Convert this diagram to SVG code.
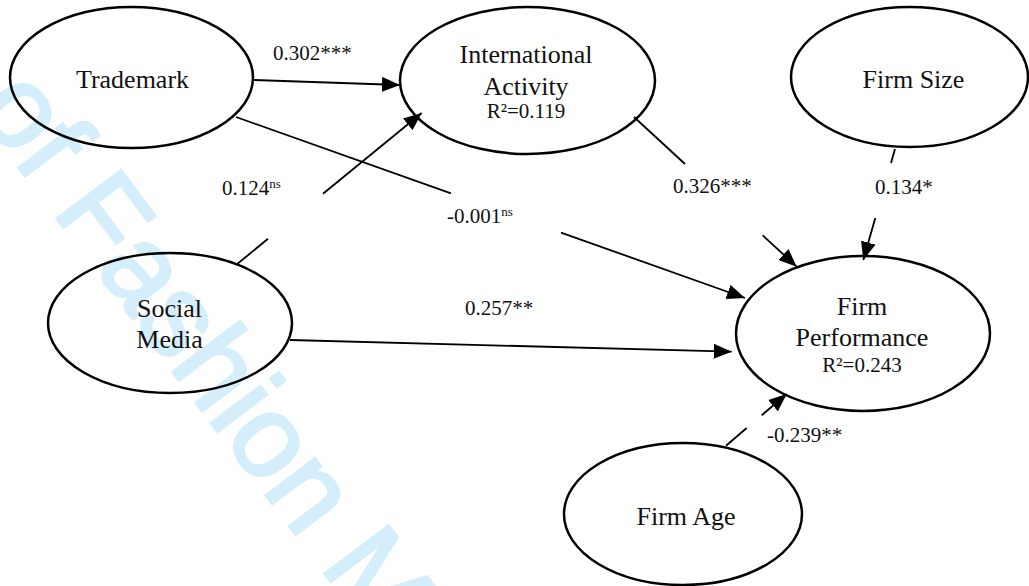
<svg xmlns="http://www.w3.org/2000/svg" width="1029" height="586" viewBox="0 0 1029 586">
<style>
.node{fill:none;stroke:#000;stroke-width:2.5}
.edge{stroke:#000;stroke-width:1.8;fill:none}
.lbl{font-family:"Liberation Serif","Times New Roman",serif;font-size:26px;fill:#111;text-anchor:middle}
.r2{font-family:"Liberation Serif","Times New Roman",serif;font-size:21px;fill:#111;text-anchor:middle}
.coef{font-family:"Liberation Serif","Times New Roman",serif;font-size:21px;fill:#111}
.ns{font-size:13px}
.wm{font-family:"Liberation Sans",Arial,sans-serif;font-size:116px;fill:#d4eefb;stroke:#d4eefb;stroke-width:3}
</style>
<defs>
<marker id="arr" markerUnits="userSpaceOnUse" markerWidth="18" markerHeight="15" refX="18" refY="7.5" orient="auto">
<path d="M0,0 L18,7.5 L0,15 z" fill="#000"/>
</marker>
</defs>
<rect width="1029" height="586" fill="#fff"/>
<text class="wm" transform="translate(-26,108) rotate(53)">of Fashion M</text>

<g id="connectors">
<line class="edge" x1="254" y1="80" x2="400" y2="85" marker-end="url(#arr)"/>
<line class="edge" x1="236" y1="117" x2="451" y2="193.3"/>
<line class="edge" x1="561" y1="232.6" x2="745" y2="298" marker-end="url(#arr)"/>
<line class="edge" x1="236" y1="265" x2="268" y2="238.8"/>
<line class="edge" x1="323" y1="193.8" x2="421.7" y2="113" marker-end="url(#arr)"/>
<line class="edge" x1="634" y1="117" x2="685" y2="164"/>
<line class="edge" x1="762.7" y1="235.4" x2="796.7" y2="266.7" marker-end="url(#arr)"/>
<line class="edge" x1="895" y1="149" x2="891" y2="163"/>
<line class="edge" x1="875.3" y1="218" x2="863.3" y2="260" marker-end="url(#arr)"/>
<line class="edge" x1="290" y1="340" x2="731.7" y2="351.7" marker-end="url(#arr)"/>
<line class="edge" x1="726" y1="445.7" x2="746.7" y2="428"/>
<line class="edge" x1="761.7" y1="415.3" x2="786.7" y2="394" marker-end="url(#arr)"/>
</g>

<g id="trademark">
<ellipse class="node" cx="131.5" cy="77.5" rx="121.5" ry="70.5"/>
<text class="lbl" x="132.5" y="88">Trademark</text>
</g>
<g id="international-activity">
<ellipse class="node" cx="527.5" cy="80.5" rx="127.5" ry="73.5"/>
<text class="lbl" x="526" y="63">International</text>
<text class="lbl" x="526" y="95">Activity</text>
<text class="r2" x="526" y="118">R²=0.119</text>
</g>
<g id="firm-size">
<ellipse class="node" cx="909.5" cy="77" rx="118.5" ry="70"/>
<text class="lbl" x="913.5" y="88">Firm Size</text>
</g>
<g id="social-media">
<ellipse class="node" cx="170" cy="323" rx="122" ry="70"/>
<text class="lbl" x="169.5" y="317">Social</text>
<text class="lbl" x="169.5" y="348">Media</text>
</g>
<g id="firm-performance">
<ellipse class="node" cx="863" cy="333.5" rx="127" ry="77.5"/>
<text class="lbl" x="862" y="315">Firm</text>
<text class="lbl" x="862" y="346">Performance</text>
<text class="r2" x="862" y="372">R²=0.243</text>
</g>
<g id="firm-age">
<ellipse class="node" cx="683" cy="514" rx="119" ry="71"/>
<text class="lbl" x="686" y="525">Firm Age</text>
</g>

<g id="coefficients">
<text class="coef" x="273" y="60">0.302***</text>
<text class="coef" x="222" y="195">0.124<tspan class="ns" dy="-7">ns</tspan></text>
<text class="coef" x="447" y="223">-0.001<tspan class="ns" dy="-7">ns</tspan></text>
<text class="coef" x="673" y="193">0.326***</text>
<text class="coef" x="875" y="194">0.134*</text>
<text class="coef" x="465" y="315">0.257**</text>
<text class="coef" x="767" y="442">-0.239**</text>
</g>
</svg>
